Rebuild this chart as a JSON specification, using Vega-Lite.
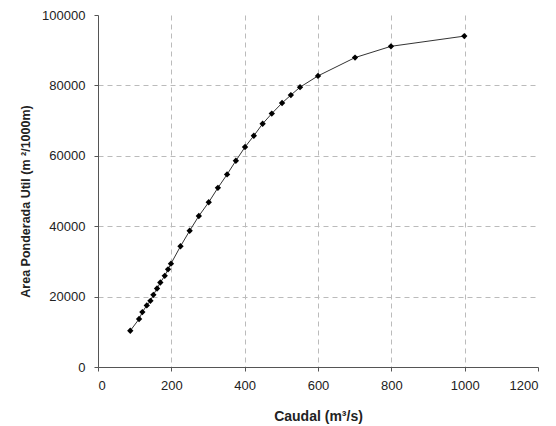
{
  "$schema": "https://vega.github.io/schema/vega-lite/v6.json",
  "width": 440,
  "height": 352,
  "autosize": "none",
  "padding": {"left": 98, "top": 15, "right": 18, "bottom": 59},
  "background": "white",
  "config": {
    "view": {"stroke": null},
    "font": "Liberation Sans",
    "axis": {
      "labelFont": "Liberation Sans",
      "labelFontSize": 13,
      "labelColor": "#222",
      "titleFont": "Liberation Sans",
      "titleFontSize": 13,
      "titleFontWeight": "bold",
      "titleColor": "#222",
      "domainColor": "#555",
      "tickColor": "#555",
      "tickSize": 4,
      "gridColor": "#bbbbbb",
      "gridDash": [5, 4],
      "gridWidth": 1
    }
  },
  "data": {
    "values": [
      {"q": 88, "a": 10300},
      {"q": 112, "a": 13640},
      {"q": 121, "a": 15600},
      {"q": 133, "a": 17500},
      {"q": 143, "a": 18800},
      {"q": 151, "a": 20500},
      {"q": 161, "a": 22300},
      {"q": 170, "a": 24000},
      {"q": 182, "a": 25900},
      {"q": 191, "a": 27750},
      {"q": 199, "a": 29350},
      {"q": 225, "a": 34300},
      {"q": 250, "a": 38700},
      {"q": 275, "a": 42900},
      {"q": 302, "a": 46800},
      {"q": 327, "a": 50900},
      {"q": 352, "a": 54700},
      {"q": 376, "a": 58600},
      {"q": 401, "a": 62500},
      {"q": 425, "a": 65700},
      {"q": 449, "a": 69100},
      {"q": 474, "a": 72000},
      {"q": 502, "a": 75000},
      {"q": 526, "a": 77250},
      {"q": 551, "a": 79500},
      {"q": 600, "a": 82700},
      {"q": 701, "a": 87900},
      {"q": 799, "a": 91100},
      {"q": 999, "a": 94000}
    ]
  },
  "encoding": {
    "x": {
      "field": "q",
      "type": "quantitative",
      "scale": {"domain": [0, 1200], "nice": false, "zero": false},
      "axis": {
        "values": [0, 200, 400, 600, 800, 1000, 1200],
        "format": "d",
        "title": "Caudal (m³/s)",
        "titleFontSize": 14,
        "titlePadding": 17,
        "labelPadding": 8,
        "gridOpacity": {"condition": {"test": "datum.value <= 0 || datum.value >= 1200", "value": 0}, "value": 1}
      }
    },
    "y": {
      "field": "a",
      "type": "quantitative",
      "scale": {"domain": [0, 100000], "nice": false},
      "axis": {
        "values": [0, 20000, 40000, 60000, 80000, 100000],
        "title": "Area Ponderada Util (m ²/1000m)",
        "titleFontSize": 12.5,
        "titlePadding": 9,
        "titleY": 186,
        "labelPadding": 9,
        "format": "d",
        "gridOpacity": {"condition": {"test": "datum.value <= 0 || datum.value >= 100000", "value": 0}, "value": 1}
      }
    }
  },
  "layer": [
    {"mark": {"type": "line", "color": "#333", "strokeWidth": 1}},
    {"mark": {"type": "point", "shape": "diamond", "filled": true, "color": "black", "size": 40, "opacity": 1}}
  ]
}
